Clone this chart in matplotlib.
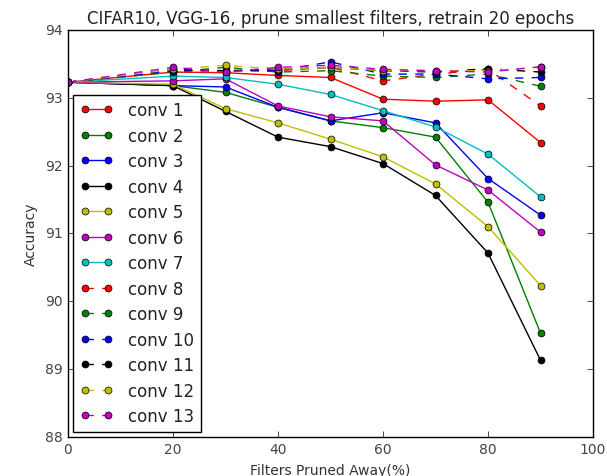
import matplotlib
matplotlib.use('Agg')
import matplotlib.pyplot as plt

plt.style.use('classic')

# Accuracy after pruning each conv layer, then retraining for 20 epochs.
pruned = [0, 20, 30, 40, 50, 60, 70, 80, 90]

conv1 = [93.23, 93.38, 93.37, 93.33, 93.30, 92.98, 92.95, 92.97, 92.34]
conv2 = [93.23, 93.18, 93.08, 92.86, 92.66, 92.56, 92.42, 91.46, 89.53]
conv3 = [93.23, 93.18, 93.16, 92.86, 92.66, 92.78, 92.63, 91.81, 91.27]
conv4 = [93.23, 93.18, 92.80, 92.42, 92.28, 92.03, 91.56, 90.71, 89.13]
conv5 = [93.23, 93.20, 92.84, 92.63, 92.39, 92.13, 91.73, 91.10, 90.23]
conv6 = [93.23, 93.25, 93.28, 92.88, 92.72, 92.66, 92.01, 91.64, 91.02]
conv7 = [93.23, 93.32, 93.30, 93.20, 93.05, 92.81, 92.57, 92.17, 91.54]
conv8 = [93.23, 93.40, 93.40, 93.40, 93.45, 93.25, 93.35, 93.42, 92.88]
conv9 = [93.23, 93.38, 93.45, 93.38, 93.40, 93.32, 93.30, 93.35, 93.17]
conv10 = [93.23, 93.40, 93.40, 93.40, 93.53, 93.35, 93.35, 93.28, 93.30]
conv11 = [93.23, 93.42, 93.40, 93.42, 93.45, 93.40, 93.38, 93.43, 93.38]
conv12 = [93.23, 93.42, 93.48, 93.42, 93.45, 93.40, 93.40, 93.40, 93.45]
conv13 = [93.23, 93.45, 93.38, 93.45, 93.48, 93.42, 93.40, 93.38, 93.46]

layers = [conv1, conv2, conv3, conv4, conv5, conv6, conv7,
          conv8, conv9, conv10, conv11, conv12, conv13]
colors = ['r', 'g', 'b', 'k', 'y', 'm', 'c']

fig = plt.figure(figsize=(6.07, 4.77), dpi=100, facecolor='white')
ax = fig.add_axes([0.112, 0.082, 0.865, 0.853])

for i, acc in enumerate(layers):
    style = '-' if i < 7 else '--'
    ax.plot(pruned, acc, style, color=colors[i % 7], marker='o',
            markersize=5, linewidth=1, label='conv %d' % (i + 1))

ax.set_xlim(0, 100)
ax.set_ylim(88, 94)
ax.set_xticks([0, 20, 40, 60, 80, 100])
ax.set_yticks([88, 89, 90, 91, 92, 93, 94])
ax.tick_params(labelsize=10, labelcolor='#444444')
ax.set_title('CIFAR10, VGG-16, prune smallest filters, retrain 20 epochs',
             fontsize=12, color='#222222')
ax.set_xlabel('Filters Pruned Away(%)', fontsize=10, color='#333333')
ax.set_ylabel('Accuracy', fontsize=10, color='#333333')
leg = ax.legend(loc='lower left', fontsize=12, numpoints=2, borderaxespad=0.3,
                labelspacing=0.45, handlelength=2.0, handletextpad=0.9)
for t in leg.get_texts():
    t.set_color('#222222')

fig.savefig('out.png', dpi=100, facecolor='white')
